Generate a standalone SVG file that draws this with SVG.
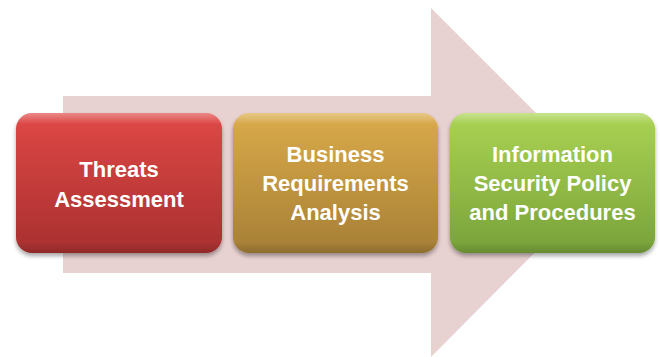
<svg xmlns="http://www.w3.org/2000/svg" width="660" height="357" viewBox="0 0 660 357">
<defs>
<linearGradient id="gRed" x1="0" y1="0" x2="0" y2="1"><stop offset="0" stop-color="#df4846"/><stop offset="1" stop-color="#a92f2f"/></linearGradient>
<linearGradient id="gOrange" x1="0" y1="0" x2="0" y2="1"><stop offset="0" stop-color="#dbab4a"/><stop offset="1" stop-color="#a67f36"/></linearGradient>
<linearGradient id="gGreen" x1="0" y1="0" x2="0" y2="1"><stop offset="0" stop-color="#abd353"/><stop offset="1" stop-color="#78a23a"/></linearGradient>
<linearGradient id="gShine" x1="0" y1="0" x2="0" y2="1"><stop offset="0" stop-color="#ffffff" stop-opacity="0.35"/><stop offset="0.08" stop-color="#ffffff" stop-opacity="0"/><stop offset="0.92" stop-color="#000000" stop-opacity="0"/><stop offset="1" stop-color="#000000" stop-opacity="0.15"/></linearGradient>
<filter id="shadow" x="-10%" y="-10%" width="120%" height="130%"><feDropShadow dx="0" dy="3" stdDeviation="2" flood-color="#000" flood-opacity="0.35"/></filter>
</defs>
<style>
.box{filter:url(#shadow);}
.lbl{font-family:"Liberation Sans",Arial,sans-serif;font-weight:bold;font-size:22px;fill:#ffffff;text-anchor:middle;}
</style>
<g id="connectors">
<polygon points="63,96 431,96 431,8 605,182 431,357 431,273 63,273" fill="#e8d1d1"/>
</g>
<g id="node-threats">
<rect class="box" x="16" y="113" width="206" height="140" rx="16" fill="url(#gRed)"/>
<rect x="16" y="113" width="206" height="140" rx="16" fill="url(#gShine)"/>
<text class="lbl" x="119" y="177">Threats</text>
<text class="lbl" x="119" y="207">Assessment</text>
</g>
<g id="node-business">
<rect class="box" x="233" y="113" width="205" height="140" rx="16" fill="url(#gOrange)"/>
<rect x="233" y="113" width="205" height="140" rx="16" fill="url(#gShine)"/>
<text class="lbl" x="335.5" y="162">Business</text>
<text class="lbl" x="335.5" y="191">Requirements</text>
<text class="lbl" x="335.5" y="220">Analysis</text>
</g>
<g id="node-policy">
<rect class="box" x="450" y="113" width="205" height="140" rx="16" fill="url(#gGreen)"/>
<rect x="450" y="113" width="205" height="140" rx="16" fill="url(#gShine)"/>
<text class="lbl" x="552.5" y="162">Information</text>
<text class="lbl" x="552.5" y="191">Security Policy</text>
<text class="lbl" x="552.5" y="220">and Procedures</text>
</g>
</svg>
